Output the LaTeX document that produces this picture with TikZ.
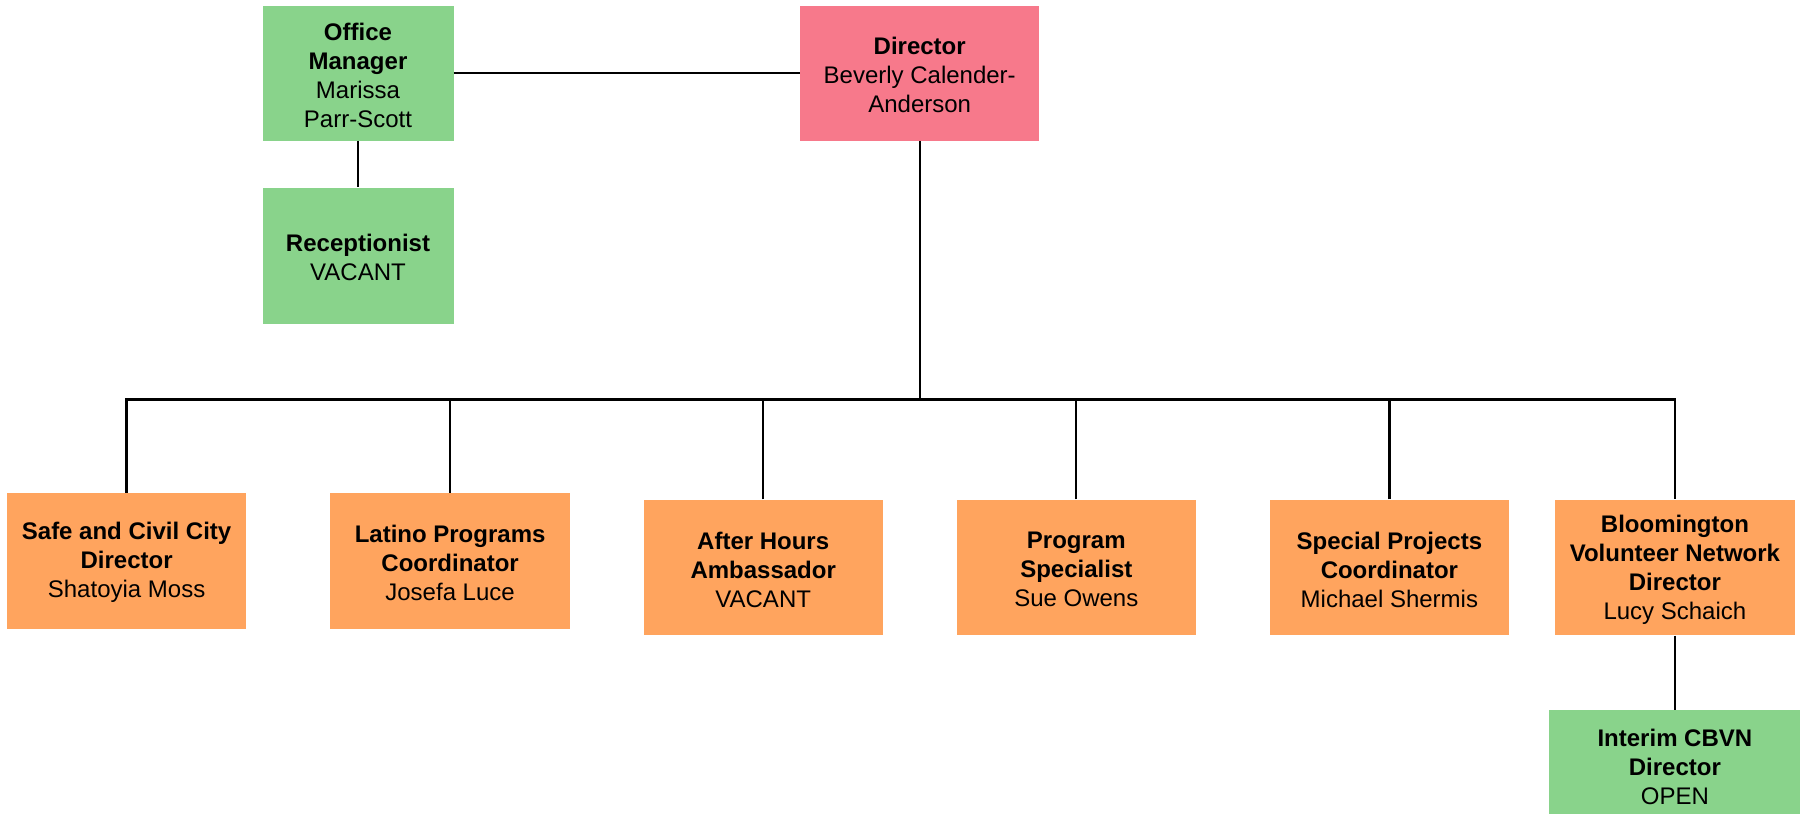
\documentclass[tikz,border=0pt]{standalone}
\usepackage{fontspec}
\setmainfont{Liberation Sans}
\definecolor{staffgreen}{RGB}{137,211,139}
\definecolor{headpink}{RGB}{247,121,139}
\definecolor{teamorange}{RGB}{255,164,94}
\begin{document}
\begin{tikzpicture}[x=1pt,y=-1pt,
  % coloured cards; the wording sits in its own node, a little low of centre
  card/.style={inner sep=0pt, draw=none},
  unitbox/.style={card, fill=teamorange, minimum width=239.4pt, minimum height=135.8pt},
  officebox/.style={card, fill=staffgreen, minimum width=191pt, minimum height=135pt},
  headbox/.style={card, fill=headpink, minimum width=239.5pt, minimum height=135pt},
  wording/.style={inner sep=0pt, align=center, text=black, yshift=-2pt,
    font=\fontsize{24}{29}\selectfont},
  link/.style={line width=2.3pt, black}]
\useasboundingbox (0,0) rectangle (1805,814);
\clip (0,0) rectangle (1805,814);

% top row: director and office staff
\node[headbox] (dir) at (919.7,73.1) {};
\node[wording] (dirt) at (dir) {\textbf{Director}\\Beverly Calender-\\Anderson};
\node[officebox] (om) at (358,73.1) {};
\node[wording] (omt) at (om) {\textbf{Office}\\\textbf{Manager}\\Marissa\\Parr-Scott};
\node[officebox, minimum height=136pt] (rec) at (358,255.5) {};
\node[wording] (rect) at (rec) {\textbf{Receptionist}\\VACANT};

% program units
\node[unitbox] (u1) at (126.6,560.6) {};
\node[wording] (u1t) at (u1) {\textbf{Safe and Civil City}\\\textbf{Director}\\Shatoyia Moss};
\node[unitbox] (u2) at (450.1,560.6) {};
\node[wording] (u2t) at (u2) {\textbf{Latino Programs}\\\textbf{Coordinator}\\Josefa Luce};
\node[unitbox] (u3) at (763.2,567.5) {};
\node[wording] (u3t) at (u3) {\textbf{After Hours}\\\textbf{Ambassador}\\VACANT};
\node[unitbox] (u4) at (1076.3,567.5) {};
\node[wording] (u4t) at (u4) {\textbf{Program}\\\textbf{Specialist}\\Sue Owens};
\node[unitbox] (u5) at (1389.4,567.5) {};
\node[wording] (u5t) at (u5) {\textbf{Special Projects}\\\textbf{Coordinator}\\Michael Shermis};
\node[unitbox] (u6) at (1674.9,567.5) {};
\node[wording] (u6t) at (u6) {\textbf{Bloomington}\\\textbf{Volunteer Network}\\\textbf{Director}\\Lucy Schaich};
\node[card, fill=staffgreen, anchor=north, minimum width=251pt, minimum height=111pt] (cbvn) at (1674.9,710.2) {};
\node[wording, yshift=1pt] (cbvnt) at (cbvn) {\textbf{Interim CBVN}\\\textbf{Director}\\OPEN};

% reporting lines
\coordinate (bus) at (919.7,399.4);
\draw[link] (om.east) -- (dir.west);
\draw[link] (om.south) -- (rec.north);
\draw[link] (dir.south) -- (bus);
\draw[link] (u1.north) |- (bus) -| (u6.north);
\draw[link] (u2.north) -- (u2.north |- bus);
\draw[link] (u3.north) -- (u3.north |- bus);
\draw[link] (u4.north) -- (u4.north |- bus);
\draw[link] (u5.north) -- (u5.north |- bus);
\draw[link] (u6.south) -- (cbvn.north);
\end{tikzpicture}
\end{document}
